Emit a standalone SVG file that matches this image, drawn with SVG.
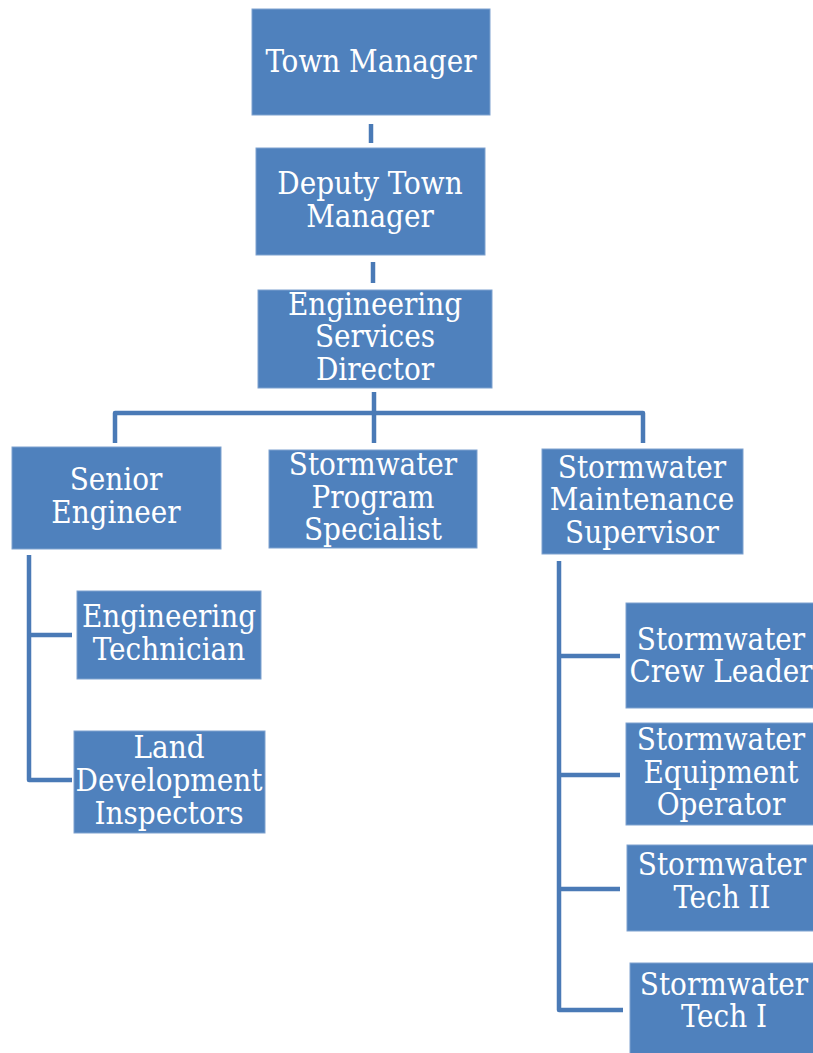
<svg xmlns="http://www.w3.org/2000/svg" width="813" height="1053" viewBox="0 0 813 1053">
<style>
.box{fill:#4F81BD;stroke:#7FA2CF;stroke-width:1}
.t{fill:#fff;font-family:'DejaVu Serif Condensed','DejaVu Serif','Liberation Serif',serif;font-stretch:condensed;font-size:31px;text-anchor:middle}
.c{stroke:#4A7AB6;stroke-width:4.5;fill:none;stroke-linecap:butt;stroke-linejoin:round}
</style>
<rect width="813" height="1053" fill="#fff"/>
<g id="connectors">
<path class="c" d="M371 124V143"/>
<path class="c" d="M373 262V283"/>
<path class="c" d="M374 392V443"/>
<path class="c" d="M115 443V413H643V443"/>
<path class="c" d="M29 555V780H72M29 635H72"/>
<path class="c" d="M559 561V1010H623M559 656H620M559 775H620M559 889H620"/>
</g>
<g id="town-manager"><rect class="box" x="252" y="9" width="238" height="106"/><text class="t" x="371" y="72">Town Manager</text></g>
<g id="deputy-town-manager"><rect class="box" x="256" y="148" width="229" height="107"/><text class="t" x="370" y="194">Deputy Town</text><text class="t" x="370" y="227">Manager</text></g>
<g id="engineering-services-director"><rect class="box" x="258" y="290" width="234" height="98"/><text class="t" x="375" y="315">Engineering</text><text class="t" x="375" y="347">Services</text><text class="t" x="375" y="380">Director</text></g>
<g id="senior-engineer"><rect class="box" x="12" y="447" width="209" height="102"/><text class="t" x="116" y="490">Senior</text><text class="t" x="116" y="523">Engineer</text></g>
<g id="stormwater-program-specialist"><rect class="box" x="269" y="450" width="208" height="98"/><text class="t" x="373" y="475">Stormwater</text><text class="t" x="373" y="508">Program</text><text class="t" x="373" y="540">Specialist</text></g>
<g id="stormwater-maintenance-supervisor"><rect class="box" x="542" y="449" width="201" height="105"/><text class="t" x="642" y="478">Stormwater</text><text class="t" x="642" y="510">Maintenance</text><text class="t" x="642" y="543">Supervisor</text></g>
<g id="engineering-technician"><rect class="box" x="77" y="591" width="184" height="88"/><text class="t" x="169" y="627">Engineering</text><text class="t" x="169" y="660">Technician</text></g>
<g id="land-development-inspectors"><rect class="box" x="74" y="731" width="191" height="102"/><text class="t" x="169" y="758">Land</text><text class="t" x="169" y="791">Development</text><text class="t" x="169" y="824">Inspectors</text></g>
<g id="stormwater-crew-leader"><rect class="box" x="626" y="603" width="192" height="105"/><text class="t" x="721" y="650">Stormwater</text><text class="t" x="721" y="682">Crew Leader</text></g>
<g id="stormwater-equipment-operator"><rect class="box" x="626" y="723" width="192" height="102"/><text class="t" x="721" y="750">Stormwater</text><text class="t" x="721" y="783">Equipment</text><text class="t" x="721" y="815">Operator</text></g>
<g id="stormwater-tech-ii"><rect class="box" x="627" y="845" width="192" height="86"/><text class="t" x="722" y="875">Stormwater</text><text class="t" x="722" y="908">Tech II</text></g>
<g id="stormwater-tech-i"><rect class="box" x="630" y="963" width="192" height="95"/><text class="t" x="724" y="995">Stormwater</text><text class="t" x="724" y="1027">Tech I</text></g>
</svg>
